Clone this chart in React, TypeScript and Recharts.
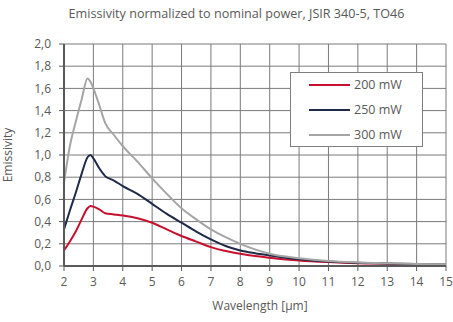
import React from 'react';
import { LineChart, Line, XAxis, YAxis, CartesianGrid } from 'recharts';

const wavelengths = [2, 2.2, 2.4, 2.6, 2.8, 2.9, 3.0, 3.2, 3.4, 3.7, 4, 4.5, 5, 5.5, 6, 6.5, 7, 7.5, 8, 8.5, 9, 10, 11, 12, 13, 14, 15];
const p200 = [0.14, 0.22, 0.31, 0.42, 0.52, 0.54, 0.535, 0.51, 0.475, 0.465, 0.455, 0.43, 0.39, 0.33, 0.27, 0.22, 0.17, 0.135, 0.11, 0.09, 0.075, 0.05, 0.035, 0.025, 0.02, 0.015, 0.012];
const p250 = [0.33, 0.5, 0.66, 0.83, 0.98, 1.0, 0.97, 0.88, 0.81, 0.77, 0.72, 0.65, 0.56, 0.47, 0.39, 0.31, 0.24, 0.18, 0.14, 0.115, 0.095, 0.06, 0.04, 0.03, 0.022, 0.017, 0.013];
const p300 = [0.75, 1.08, 1.3, 1.5, 1.69, 1.66, 1.6, 1.45, 1.29, 1.18, 1.08, 0.94, 0.79, 0.65, 0.52, 0.42, 0.33, 0.26, 0.2, 0.15, 0.11, 0.07, 0.045, 0.032, 0.024, 0.018, 0.015];
const xTicks = [2, 3, 4, 5, 6, 7, 8, 9, 10, 11, 12, 13, 14, 15];
const yTicks = [0, 0.2, 0.4, 0.6, 0.8, 1.0, 1.2, 1.4, 1.6, 1.8, 2.0];
const seriesNames = ['200 mW', '250 mW', '300 mW'];
const seriesKeys = ['s200', 's250', 's300'];
const seriesColors = ['#c8102e', '#1f2a48', '#a5a5a5'];

const data = wavelengths.map((w, i) => ({ w, s200: p200[i], s250: p250[i], s300: p300[i] }));

const FONT = "'Open Sans', sans-serif";
const TXT = '#595959';
const GRID = '#7a7a7a';

export default function App() {
  return (
    <div style={{ position: 'absolute', left: 0, top: 0, width: 453, height: 322, background: '#fff' }}>
      <div style={{ position: 'absolute', left: 0, width: 473, top: 5, textAlign: 'center', fontFamily: FONT, fontSize: 12.6, color: TXT, whiteSpace: 'nowrap' }}>
        Emissivity normalized to nominal power, JSIR 340-5, TO46
      </div>
      <LineChart width={453} height={322} data={data} margin={{ top: 44, right: 7, left: 30, bottom: 12 }}>
        <CartesianGrid stroke={GRID} strokeWidth={1} />
        <XAxis
          dataKey="w"
          type="number"
          domain={[2, 15]}
          ticks={xTicks}
          interval={0}
          height={44}
          tickSize={5}
          tickMargin={6}
          axisLine={{ stroke: '#595959', strokeWidth: 2 }}
          tickLine={{ stroke: '#595959' }}
          tick={{ fill: TXT, fontFamily: FONT, fontSize: 12 }}
          label={{ value: 'Wavelength [µm]', position: 'insideBottom', offset: 0, fill: TXT, fontFamily: FONT, fontSize: 12, dx: 5 }}
        />
        <YAxis
          type="number"
          domain={[0, 2]}
          ticks={yTicks}
          interval={0}
          width={34}
          tickSize={5}
          tickMargin={8}
          axisLine={{ stroke: '#595959', strokeWidth: 2 }}
          tickLine={{ stroke: '#595959' }}
          tick={{ fill: TXT, fontFamily: FONT, fontSize: 12 }}
          tickFormatter={(v: number) => v.toFixed(1).replace('.', ',')}
          label={{ value: 'Emissivity', angle: -90, position: 'insideLeft', offset: -22, fill: TXT, fontFamily: FONT, fontSize: 12, style: { textAnchor: 'middle' } }}
        />
        {seriesKeys.map((k, i) => (
          <Line key={k} type="monotone" dataKey={k} name={seriesNames[i]} stroke={seriesColors[i]} strokeWidth={2} dot={false} isAnimationActive={false} />
        ))}
      </LineChart>
      <div style={{ position: 'absolute', left: 290, top: 72, width: 133, height: 75, border: '1px solid #7f7f7f', background: '#fff', boxSizing: 'border-box' }}>
        {seriesNames.map((n, i) => (
          <div key={n} style={{ position: 'absolute', left: 18, top: 4 + i * 25, height: 16, display: 'flex', alignItems: 'center' }}>
            <div style={{ width: 41, height: 2, background: seriesColors[i] }} />
            <span style={{ marginLeft: 4, fontFamily: FONT, fontSize: 12.5, color: TXT, lineHeight: '16px', whiteSpace: 'nowrap' }}>{n}</span>
          </div>
        ))}
      </div>
    </div>
  );
}
